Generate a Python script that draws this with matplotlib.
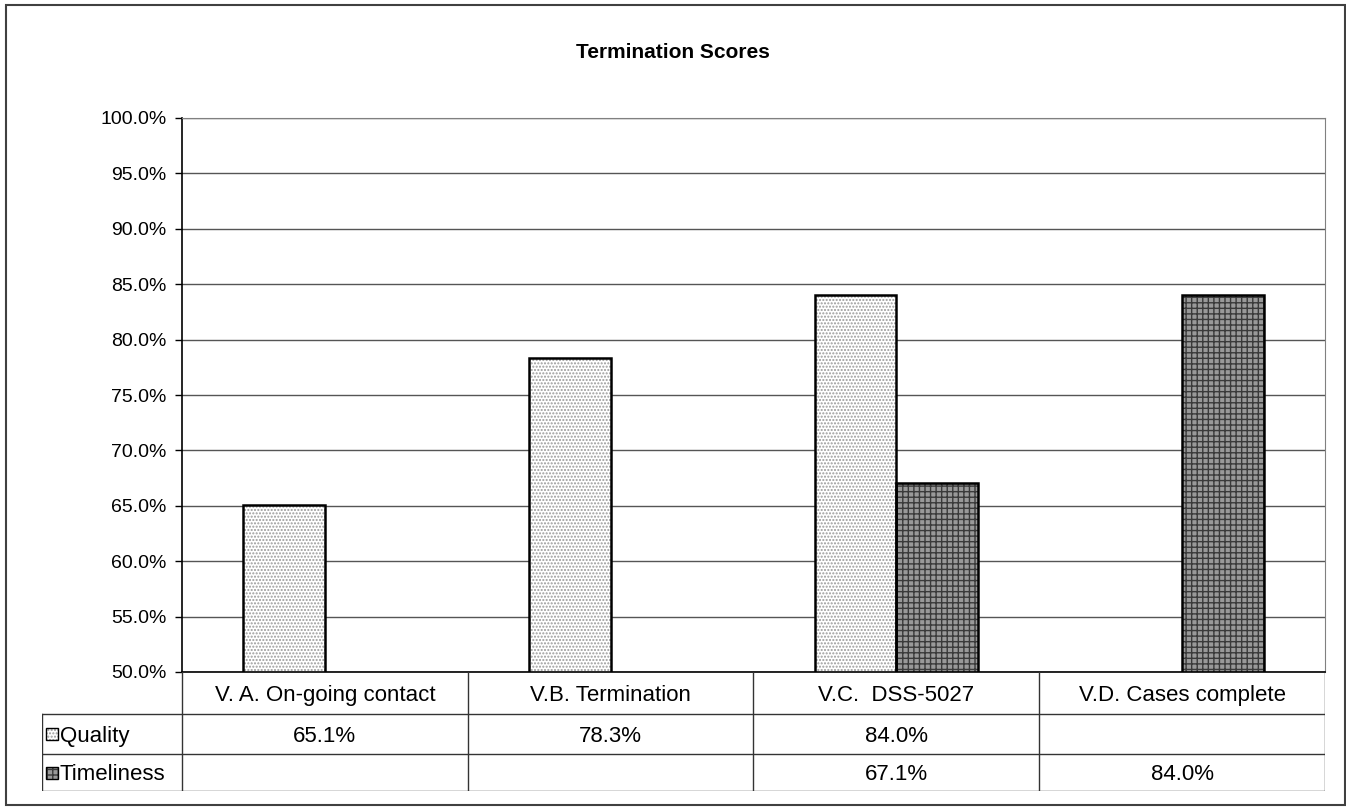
import matplotlib
matplotlib.use("Agg")
import matplotlib.pyplot as plt
from matplotlib.patches import Rectangle
from matplotlib.lines import Line2D

plt.rcParams['font.family'] = ['Liberation Sans', 'DejaVu Sans']
plt.rcParams['hatch.linewidth'] = 1.0

categories = ['V. A. On-going contact', 'V.B. Termination', 'V.C.  DSS-5027', 'V.D. Cases complete']
series_names = ['Quality', 'Timeliness']
quality = [65.1, 78.3, 84.0, None]
timeliness = [None, None, 67.1, 84.0]
yticks = [50, 55, 60, 65, 70, 75, 80, 85, 90, 95, 100]

W, H = 1346, 807
fig = plt.figure(figsize=(W / 100, H / 100), dpi=100)

# plot area in pixels
px_l, px_r, px_t, px_b = 182, 1325, 118, 672
tbl_l, tbl_b = 42, 791
row_edges = [0, 42, 82, tbl_b - px_b]  # table rows, pixels below the plot

ax = fig.add_axes([px_l / W, 1 - px_b / H, (px_r - px_l) / W, (px_b - px_t) / H])
ax.set_xlim(-0.5, len(categories) - 0.5)
ax.set_ylim(50, 100)
ax.set_yticks(yticks)
ax.set_yticklabels([f'{v:.1f}%' for v in yticks], fontsize=14)
ax.set_xticks([])
ax.tick_params(axis='y', direction='out', length=5, width=1, color='black', pad=6)
ax.grid(axis='y', color='#555555', linewidth=1)
ax.set_axisbelow(True)
for side in ['top', 'right']:
    ax.spines[side].set_color('#808080')
for side in ['left', 'bottom']:
    ax.spines[side].set_color('black')
    ax.spines[side].set_linewidth(1.2)

bw = 1 / 3.5
styles = {
    'Quality': dict(face='white', hatch='.....', hcolor='#9a9a9a'),
    'Timeliness': dict(face='#999999', hatch='+++', hcolor='#3a3a3a'),
}


def draw_bar(x, val, st):
    ax.bar(x, val, width=bw, align='edge', color=st['face'], hatch=st['hatch'],
           edgecolor=st['hcolor'], linewidth=0, zorder=2)
    ax.bar(x, val, width=bw, align='edge', fill=False, edgecolor='black',
           linewidth=1.8, zorder=3)


for i, (q, t) in enumerate(zip(quality, timeliness)):
    if q is not None:
        draw_bar(i - bw, q, styles['Quality'])
    if t is not None:
        draw_bar(i, t, styles['Timeliness'])

# data table under the plot
upp = (px_r - px_l) / len(categories)  # pixels per category
x_left = -0.5 - (px_l - tbl_l) / upp
x_right = len(categories) - 0.5
tax = fig.add_axes([tbl_l / W, 1 - tbl_b / H, (px_r - tbl_l) / W, (tbl_b - px_b) / H])
tax.set_xlim(x_left, x_right)
tax.set_ylim(row_edges[-1], 0)
tax.axis('off')

lc = '#333333'
for y in row_edges[1:]:
    tax.add_line(Line2D([x_left, x_right], [y, y], color=lc, lw=1))
for x in [k - 0.5 for k in range(len(categories) + 1)]:
    tax.add_line(Line2D([x, x], [0, row_edges[-1]], color=lc, lw=1))
tax.add_line(Line2D([x_left, x_left], [row_edges[1], row_edges[-1]], color=lc, lw=1))


def mid(r):
    return (row_edges[r] + row_edges[r + 1]) / 2


for i, c in enumerate(categories):
    tax.text(i, mid(0), c, ha='center', va='center_baseline', fontsize=16)

rows = [quality, timeliness]
for r, (name, vals) in enumerate(zip(series_names, rows)):
    y = mid(r + 1)
    st = styles[name]
    kx = x_left + 4 / upp
    kw = 12 / upp
    tax.add_patch(Rectangle((kx, y - 6), kw, 12, facecolor=st['face'],
                            hatch=st['hatch'], edgecolor=st['hcolor'], linewidth=0))
    tax.add_patch(Rectangle((kx, y - 6), kw, 12, fill=False,
                            edgecolor='black', linewidth=1))
    tax.text(kx + kw + 2 / upp, y, name, ha='left', va='center_baseline', fontsize=16)
    for i, v in enumerate(vals):
        if v is not None:
            tax.text(i, y, f'{v:.1f}%', ha='center', va='center_baseline', fontsize=16)

fig.text(0.5, 1 - 52 / H, 'Termination Scores', ha='center', va='center',
         fontsize=15, fontweight='bold')

fig.patches.append(Rectangle((6 / W, 1 - 805 / H), (1345 - 6) / W, (805 - 5) / H,
                             transform=fig.transFigure, fill=False,
                             edgecolor='#404040', linewidth=1.5))

fig.savefig('out.png', dpi=100)
